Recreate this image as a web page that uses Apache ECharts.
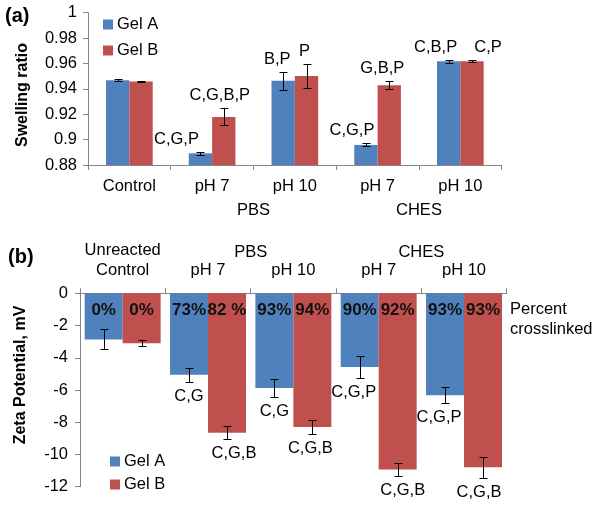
<!DOCTYPE html>
<html><head><meta charset="utf-8">
<script src="https://cdn.jsdelivr.net/npm/echarts@6/dist/echarts.min.js"></script>
<style>html,body{margin:0;padding:0;background:#fff}#c{width:601px;height:505px}</style>
</head><body><div id="c"></div>
<script>
// ---- Panel (a): swelling ratio ----
const categoriesA = ['Control', 'pH 7', 'pH 10', 'pH 7', 'pH 10'];
const swellGelA = [0.9468, 0.8892, 0.9463, 0.8958, 0.9618];
const swellGelB = [0.9457, 0.9179, 0.9502, 0.9429, 0.9618];
const swellErrA = [0.0008, 0.0012, 0.0072, 0.0012, 0.0012];
const swellErrB = [0.0003, 0.0067, 0.0093, 0.0029, 0.0008];
const swellSigA = ['', 'C,G,P', 'B,P', 'C,G,P', 'C,B,P'];
const swellSigB = ['', 'C,G,B,P', 'P', 'G,B,P', 'C,P'];
const swellTicks = { min: 0.88, max: 1.0, interval: 0.02 };

// ---- Panel (b): zeta potential ----
const categoriesB = ['Unreacted\nControl', 'pH 7', 'pH 10', 'pH 7', 'pH 10'];
const zetaGelA = [-2.86, -5.05, -5.88, -4.58, -6.32];
const zetaGelB = [-3.10, -8.66, -8.30, -10.93, -10.80];
const zetaErrA = [0.62, 0.43, 0.56, 0.67, 0.50];
const zetaErrB = [0.19, 0.41, 0.44, 0.38, 0.65];
const zetaSigA = ['', 'C,G', 'C,G', 'C,G,P', 'C,G,P'];
const zetaSigB = ['', 'C,G,B', 'C,G,B', 'C,G,B', 'C,G,B'];
const pctGelA = ['0%', '73%', '93%', '90%', '93%'];
const pctGelB = ['0%', '82 %', '94%', '92%', '93%'];
const zetaTicks = { min: -12, max: 0, interval: 2 };

// buffer groups, placed at category boundaries (0..5 band scale)
const groupNames = { 2: 'PBS', 4: 'CHES' };

// ---- layout / style (not data) ----
const FONT = "'Liberation Sans', Arial, sans-serif";
const BLUE = '#4f81bd', RED = '#c0504d', AXIS = '#868686';
const FS = 16.5;
// horizontal nudges (px) of the significance labels, as hand-placed in the original figure
const nudgeSwellA = [0, -24, -6, -14, -13];
const nudgeSwellB = [0, -4, -2, -7, 16];
const nudgeZetaA = [0, 0, 0, -6, -6];
const nudgeZetaB = [0, 7, -2, 5, -4];

const chart = echarts.init(document.getElementById('c'), null, { renderer: 'canvas' });

function errSeries(gridI, vals, errs, sigs, nudges, side, frac, dir) {
  return {
    type: 'custom', xAxisIndex: gridI * 2, yAxisIndex: gridI, z: 10, silent: true,
    data: vals.map((v, i) => [i, v, errs[i]]),
    renderItem(params, api) {
      const i = api.value(0), v = api.value(1), e = api.value(2);
      const band = api.size([1, 0])[0];
      const c = api.coord([i, v]);
      const xc = c[0] + side * frac * band / 2;
      const x = Math.round(xc) + 0.5;
      const yTop = Math.round(api.coord([i, v + e])[1]) + 0.5;
      const yBot = Math.round(api.coord([i, v - e])[1]) + 0.5;
      const cap = 4;
      const ls = { stroke: '#000', lineWidth: 1 };
      const children = [
        { type: 'line', shape: { x1: x, y1: yTop, x2: x, y2: yBot }, style: ls },
        { type: 'line', shape: { x1: x - cap, y1: yTop, x2: x + cap, y2: yTop }, style: ls },
        { type: 'line', shape: { x1: x - cap, y1: yBot, x2: x + cap, y2: yBot }, style: ls }
      ];
      const s = sigs[params.dataIndex];
      if (s) {
        children.push({
          type: 'text', x: xc + nudges[params.dataIndex], y: dir < 0 ? yTop - 5 : yBot + 5,
          style: { text: s, align: 'center', verticalAlign: dir < 0 ? 'bottom' : 'top',
                   fontSize: FS, fontFamily: FONT, fill: '#000' }
        });
      }
      return { type: 'group', children };
    }
  };
}

const catAxisCommon = {
  type: 'category',
  axisLine: { onZero: false, lineStyle: { color: AXIS, width: 1 } },
  axisTick: { show: true, length: 5, lineStyle: { color: AXIS } },
  axisLabel: { color: '#000', fontSize: FS, fontFamily: FONT, interval: 0 },
  splitLine: { show: false }
};
const groupAxisCommon = {
  type: 'value', min: 0, max: 5, interval: 1,
  axisLine: { show: false, onZero: false }, axisTick: { show: false }, splitLine: { show: false },
};
const valAxisCommon = {
  type: 'value',
  axisLine: { show: true, onZero: false, lineStyle: { color: AXIS, width: 1 } },
  axisTick: { show: true, length: 5, lineStyle: { color: AXIS } },
  splitLine: { show: false }
};

const option = {
  backgroundColor: '#fff',
  animation: false,
  textStyle: { fontFamily: FONT },
  grid: [
    { left: 88, top: 12.7, width: 413.7, height: 152.3, containLabel: false, outerBoundsMode: 'none' },
    { left: 80, top: 293.3, width: 426.7, height: 193.4, containLabel: false, outerBoundsMode: 'none' }
  ],
  xAxis: [
    Object.assign({}, catAxisCommon, { gridIndex: 0, position: 'bottom', data: categoriesA,
      axisLabel: Object.assign({}, catAxisCommon.axisLabel, { margin: 13 }) }),
    Object.assign({}, groupAxisCommon, { gridIndex: 0, position: 'bottom',
      axisLabel: { margin: 37, color: '#000', fontSize: FS, fontFamily: FONT,
        formatter: v => groupNames[v] || '' } }),
    Object.assign({}, catAxisCommon, { gridIndex: 1, position: 'top', data: categoriesB,
      axisLabel: Object.assign({}, catAxisCommon.axisLabel, { margin: 13, lineHeight: 20 }) }),
    Object.assign({}, groupAxisCommon, { gridIndex: 1, position: 'top',
      axisLabel: { margin: 32, color: '#000', fontSize: FS, fontFamily: FONT,
        formatter: v => groupNames[v] || '' } })
  ],
  yAxis: [
    Object.assign({}, valAxisCommon, { gridIndex: 0, min: swellTicks.min, max: swellTicks.max, interval: swellTicks.interval,
      axisLabel: { color: '#000', fontSize: FS, fontFamily: FONT, margin: 11, formatter: v => String(+v.toFixed(2)) } }),
    Object.assign({}, valAxisCommon, { gridIndex: 1, min: zetaTicks.min, max: zetaTicks.max, interval: zetaTicks.interval,
      axisLabel: { color: '#000', fontSize: FS, fontFamily: FONT, margin: 12 } })
  ],
  legend: [
    { orient: 'vertical', left: 98, top: 11, itemWidth: 10, itemHeight: 10, itemGap: 9,
      icon: 'rect', data: ['Gel A', 'Gel B'], selectedMode: false,
      textStyle: { color: '#000', fontSize: FS, fontFamily: FONT, padding: [0, 0, 0, -1] } },
    { orient: 'vertical', left: 105, top: 448, itemWidth: 10, itemHeight: 10, itemGap: 6,
      icon: 'rect', data: ['Gel A', 'Gel B'], selectedMode: false,
      textStyle: { color: '#000', fontSize: FS, fontFamily: FONT, padding: [0, 0, 0, -1] } }
  ],
  series: [
    { name: 'Gel A', type: 'bar', xAxisIndex: 0, yAxisIndex: 0, data: swellGelA,
      barWidth: '28.2%', barGap: '0%', itemStyle: { color: BLUE } },
    { name: 'Gel B', type: 'bar', xAxisIndex: 0, yAxisIndex: 0, data: swellGelB,
      barWidth: '28.2%', barGap: '0%', itemStyle: { color: RED } },
    { name: 'Gel A', type: 'bar', xAxisIndex: 2, yAxisIndex: 1, data: zetaGelA,
      barWidth: '44.5%', barGap: '0%', itemStyle: { color: BLUE },
      label: { show: true, position: 'insideTop', distance: 9, color: '#111', fontWeight: 'bold',
        fontSize: 17, fontFamily: FONT, formatter: p => pctGelA[p.dataIndex] } },
    { name: 'Gel B', type: 'bar', xAxisIndex: 2, yAxisIndex: 1, data: zetaGelB,
      barWidth: '44.5%', barGap: '0%', itemStyle: { color: RED },
      label: { show: true, position: 'insideTop', distance: 9, color: '#111', fontWeight: 'bold',
        fontSize: 17, fontFamily: FONT, formatter: p => pctGelB[p.dataIndex] } },
    errSeries(0, swellGelA, swellErrA, swellSigA, nudgeSwellA, -1, 0.282, -1),
    errSeries(0, swellGelB, swellErrB, swellSigB, nudgeSwellB, 1, 0.282, -1),
    errSeries(1, zetaGelA, zetaErrA, zetaSigA, nudgeZetaA, -1, 0.445, 1),
    errSeries(1, zetaGelB, zetaErrB, zetaSigB, nudgeZetaB, 1, 0.445, 1)
  ],
  graphic: [
    { type: 'text', left: 5, top: 6, style: { text: '(a)', fontSize: 20, fontWeight: 'bold', fontFamily: FONT, fill: '#000' } },
    { type: 'text', left: 8, top: 247, style: { text: '(b)', fontSize: 20, fontWeight: 'bold', fontFamily: FONT, fill: '#000' } },
    { type: 'text', x: 23, y: 95, rotation: Math.PI / 2,
      style: { text: 'Swelling ratio', fontSize: 16, fontWeight: 'bold', fontFamily: FONT, fill: '#000', align: 'center', verticalAlign: 'middle' } },
    { type: 'text', x: 21, y: 375, rotation: Math.PI / 2,
      style: { text: 'Zeta Potential, mV', fontSize: 16, fontWeight: 'bold', fontFamily: FONT, fill: '#000', align: 'center', verticalAlign: 'middle' } },
    { type: 'text', left: 510, top: 299,
      style: { text: 'Percent\ncrosslinked', fontSize: FS, lineHeight: 20, fontFamily: FONT, fill: '#000' } }
  ]
};
chart.setOption(option);
</script></body></html>
